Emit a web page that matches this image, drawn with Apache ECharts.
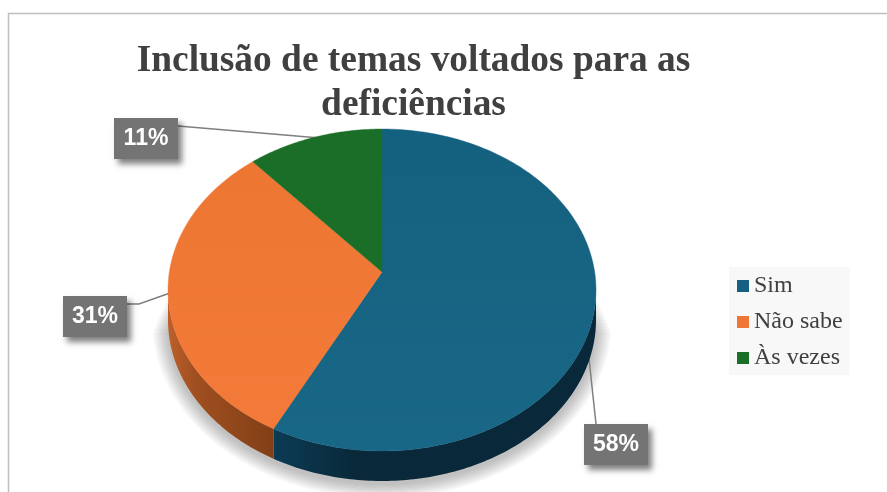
<!DOCTYPE html>
<html>
<head>
<meta charset="utf-8">
<style>
  html, body { margin: 0; background: #fff; }
  #chart { width: 887px; height: 492px; }
</style>
<script src="https://cdn.jsdelivr.net/npm/echarts@6/dist/echarts.min.js"></script>
</head>
<body>
<div id="chart"></div>
<script>
const categories = ["Sim", "Não sabe", "Às vezes"];
const values = [57.6, 30.95, 11.45];
const colors = ["#156082", "#EF7634", "#1B6E27"];

// pie projection
const cx = 382, cy = 290, rx = 214, ry = 161, depth = 30, tilt = -0.112;
const faceColors = [
  ["#14607f", "#196786"],
  ["#ee7633", "#f37a38"],
  ["#1b6e27", "#1b6e27"]
];
const sideColors = [
  ["#0c3b54", "#09293a", "#09293a"],
  ["#bd602b", "#a04f20", "#823f17"],
  ["#123f18", "#123f18", "#123f18"]
];
// label boxes and leader lines
const labelBoxes = [
  { x: 584, y: 424, line: [[596, 424], [587, 340]] },
  { x: 63, y: 296, line: [[127, 304], [139, 304], [170, 293]] },
  { x: 114, y: 118, line: [[178, 126], [320, 138]] }
];

const total = values.reduce((a, b) => a + b, 0);

function project(frac, k) {
  const t = frac * Math.PI * 2;
  const u = Math.sin(t) * k, v = -Math.cos(t) * k;
  const d = 1 + tilt * v;
  return [
    cx + rx * u * Math.sqrt(1 - tilt * tilt) / d,
    cy + ry * (v + tilt) / d
  ];
}

function rimPoints(from, to) {
  const pts = [];
  const n = Math.max(2, Math.ceil((to - from) * 400));
  for (let i = 0; i <= n; i++) {
    pts.push(project(from + (to - from) * i / n, 1));
  }
  return pts;
}

// soft shadow under the pie, stacked translucent rings
function shadowLayers() {
  const layers = [];
  for (let e = 2; e <= 26; e += 2) {
    const pts = [];
    for (let a = 0; a <= 360; a += 1) {
      const t = a * Math.PI / 180;
      const y = cy + depth + 3 + (ry + e * 0.55) * Math.sin(t);
      if (y >= cy + e * 1.6) {
        pts.push([cx + (rx + e * 0.6) * Math.cos(t), y]);
      }
    }
    layers.push({
      type: "polygon",
      shape: { points: pts },
      z2: 0,
      style: { fill: "rgba(0,0,0,0.022)" }
    });
  }
  return layers;
}

function renderSlice(params, api) {
  const i = params.seriesIndex;
  const from = values.slice(0, i).reduce((a, b) => a + b, 0) / total;
  const to = from + api.value(0) / total;
  const rim = rimPoints(from, to);
  const children = i === 0 ? shadowLayers() : [];

  const front = rim.filter((p) => p[1] >= cy - 1);
  if (front.length > 1) {
    const c = sideColors[i];
    const side = front.concat(front.map((p) => [p[0], p[1] + depth]).reverse());
    children.push({
      type: "polygon",
      shape: { points: side },
      z2: 2,
      style: {
        fill: new echarts.graphic.LinearGradient(0, 0, 1, 0, [
          { offset: 0, color: c[0] },
          { offset: 0.25, color: c[1] },
          { offset: 1, color: c[2] }
        ])
      }
    });
  }

  children.push({
    type: "polygon",
    shape: { points: [project(0, 0)].concat(rim) },
    z2: 5,
    style: {
      fill: new echarts.graphic.LinearGradient(0, 0, 0, 1, [
        { offset: 0, color: faceColors[i][0] },
        { offset: 1, color: faceColors[i][1] }
      ]),
      stroke: colors[i],
      lineWidth: 0.4
    }
  });

  const box = labelBoxes[i];
  children.push({
    type: "polyline",
    shape: { points: box.line },
    z2: 1,
    style: { fill: null, stroke: "#7f7f7f", lineWidth: 1.5 }
  });
  children.push({
    type: "rect",
    shape: { x: box.x, y: box.y, width: 64, height: 41 },
    z2: 8,
    style: {
      fill: "#747474",
      shadowBlur: 6,
      shadowColor: "rgba(0,0,0,0.5)",
      shadowOffsetX: 4,
      shadowOffsetY: 5
    }
  });
  children.push({
    type: "text",
    z2: 9,
    style: {
      x: box.x + 32,
      y: box.y + 21,
      text: Math.round(api.value(0)) + "%",
      fill: "#fff",
      font: 'bold 23px "Liberation Sans"',
      align: "center",
      verticalAlign: "middle"
    }
  });
  return { type: "group", children: children };
}

const chart = echarts.init(document.getElementById("chart"));
chart.setOption({
  animation: false,
  color: colors,
  title: {
    text: "Inclusão de temas voltados para as\ndeficiências",
    left: 408.5,
    top: 34,
    textAlign: "center",
    textStyle: {
      fontFamily: "Liberation Serif",
      fontWeight: "bold",
      fontSize: 37.4,
      lineHeight: 44,
      color: "#404040"
    }
  },
  legend: {
    orient: "vertical",
    left: 729,
    top: 267,
    padding: [7, 7, 5, 8],
    itemWidth: 12,
    itemHeight: 12,
    itemGap: 12,
    icon: "rect",
    selectedMode: false,
    backgroundColor: "#f8f8f8",
    data: categories,
    textStyle: {
      fontFamily: "Liberation Serif",
      fontSize: 24,
      color: "#404040"
    }
  },
  graphic: [
    {
      type: "polyline",
      shape: { points: [[8.5, 492], [8.5, 13.5], [887, 13.5]] },
      style: { fill: null, stroke: "#bfbfbf", lineWidth: 1.5 }
    }
  ],
  series: categories.map((name, i) => ({
    name: name,
    type: "custom",
    coordinateSystem: "none",
    renderItem: renderSlice,
    silent: true,
    itemStyle: { color: colors[i] },
    data: [[values[i]]]
  }))
});
</script>
</body>
</html>
